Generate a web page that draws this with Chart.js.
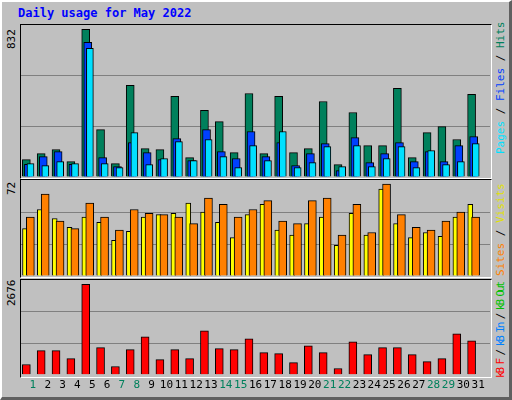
<!DOCTYPE html>
<html><head><meta charset="utf-8">
<script src="https://cdn.jsdelivr.net/npm/chart.js@4"></script>
<style>
body{margin:0;width:512px;height:400px;overflow:hidden;background:#fff}
#wrap{position:absolute;left:0;top:0;width:512px;height:400px;background:#C0C0C0;box-sizing:border-box;border-left:2px solid #fff;border-top:2px solid #fff;border-right:3px solid #606060;border-bottom:3px solid #606060}
.t{position:absolute;font-family:"DejaVu Sans Mono",monospace;white-space:nowrap}
.frame{position:absolute;box-sizing:border-box;border-left:1px solid #000;border-top:1px solid #000;border-right:1px solid #fff;border-bottom:1px solid #fff}
canvas{position:absolute}
.rot{position:absolute;transform-origin:0 0;transform:rotate(-90deg);font-family:"DejaVu Sans Mono",monospace;font-size:11px;white-space:nowrap}
</style></head><body>
<div id="wrap"></div>
<div class="t" style="left:18px;top:6px;font-size:12px;font-weight:bold;color:#0000FF">Daily usage for May 2022</div>
<div class="frame" style="left:20px;top:24px;width:472px;height:155px"></div>
<div class="frame" style="left:20px;top:179px;width:472px;height:99px"></div>
<div class="frame" style="left:20px;top:279px;width:472px;height:99px"></div>
<div class="rot" style="left:5px;top:49px">832</div>
<div class="rot" style="left:5px;top:195px">72</div>
<div class="rot" style="left:5px;top:306px">2676</div>
<div class="rot" style="left:494px;top:154px"><span style="color:#00E0FF">Pages</span> / <span style="color:#0040FF">Files</span> / <span style="color:#00805C">Hits</span></div>
<div class="rot" style="left:494px;top:276px"><span style="color:#FF8000">Sites</span> / <span style="color:#E0E000">Visits</span></div>
<div class="rot" style="left:494px;top:378px;letter-spacing:-2.1px"><span style="color:#FF0000">kB F</span> / <span style="color:#0080FF">kB In</span> / <span style="color:#00C000">kB Out</span></div>
<canvas id="c1" style="left:21px;top:25px;width:469px;height:152px"></canvas>
<canvas id="c2" style="left:21px;top:180px;width:469px;height:96px"></canvas>
<canvas id="c3" style="left:21px;top:280px;width:469px;height:116px"></canvas>
<script>
const days = Array.from({length:31},(_,i)=>String(i+1));
const weekend = [1,7,8,14,15,21,22,28,29];
const hits  = [98,132,154,87,832,267,75,516,160,154,454,109,375,312,137,470,132,454,137,160,425,70,363,177,177,499,109,250,284,211,465];
const files = [72,115,143,72,758,109,58,194,137,98,216,92,267,143,104,256,115,194,64,132,188,36,222,81,132,194,87,143,87,177,228];
const pages = [75,64,87,75,725,75,53,250,70,104,199,92,211,115,53,177,92,256,53,81,171,58,177,58,104,171,53,149,70,87,188];
const visits= [37,52,45,38,46,42,28,35,46,48,49,57,50,42,30,48,56,36,32,41,46,24,49,32,68,41,30,34,31,46,56];
const sites = [46,64,43,37,57,46,36,52,49,48,46,41,61,56,46,52,59,43,41,59,61,32,56,34,72,48,38,36,43,50,46];
const kbytes= [303,713,713,479,2676,801,244,742,1123,449,742,479,1299,772,742,1065,654,625,361,859,654,186,977,596,801,801,596,391,479,1211,1006];

function ds(vals, off, color, w, order){
  return {data: vals.map((v,i)=>({x:i+1+off,y:v})), backgroundColor:color, borderColor:'#000', borderWidth:1,
    barThickness:w, order:order, grouped:false, borderSkipped:'bottom'};
}
function make(id, datasets, max, showX){
  new Chart(document.getElementById(id), {
    type:'bar',
    data:{datasets},
    options:{responsive:false, animation:false, devicePixelRatio:1,
      layout:{padding:0},
      plugins:{legend:{display:false}, tooltip:{enabled:false}},
      scales:{
        x:{type:'linear', min:0.2, max:31.8, display:showX, offset:false,
           grid:{display:false, drawTicks:false}, border:{display:false},
           afterBuildTicks:s=>{s.ticks=days.map((d,i)=>({value:i+1}));},
           ticks:{padding:4, autoSkip:false, maxRotation:0, font:{family:'DejaVu Sans Mono', size:11},
             callback:(v)=>days[v-1],
             color:c=>weekend.includes(c.tick.value)?'#00805C':'#000'}},
        y:{min:0, max:max, display:true, grid:{drawTicks:false, tickLength:0,
             color:c=>(c.index===1||c.index===2)?'#808080':'rgba(0,0,0,0)'},
           border:{display:false}, ticks:{display:false},
           afterFit:s=>{s.width=0;},
           afterBuildTicks:s=>{s.ticks=[0,1,2,3].map(k=>({value:max*k/3}));}}
      }}
  });
}
function size(id,w,h){const c=document.getElementById(id);c.width=w;c.height=h;}
size('c1',469,152);size('c2',469,96);size('c3',469,116);
make('c1',[ds(hits,-0.44,'#00805C',8,3), ds(files,-0.3,'#0040FF',8,2), ds(pages,-0.16,'#00E0FF',7,1)],856,false);
make('c2',[ds(visits,-0.53,'#FFFF00',5,2), ds(sites,-0.17,'#FF8000',8,1)],75.1,false);
make('c3',[ds(kbytes,-0.44,'#FF0000',8,1)],2801,true);
</script>
</body></html>
